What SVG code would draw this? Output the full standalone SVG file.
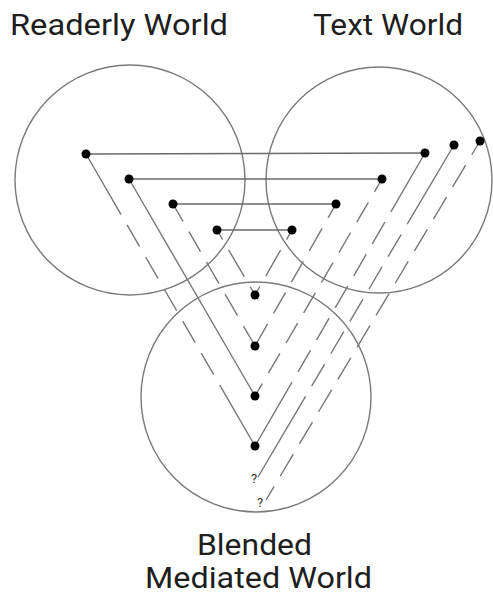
<svg xmlns="http://www.w3.org/2000/svg" width="493" height="597" viewBox="0 0 493 597">
<style>
.world{fill:none;stroke:#7a7a7a;stroke-width:1.4}
.label{font-family:Roboto,"Noto Sans","Liberation Sans",sans-serif;font-size:29px;fill:#1e1e1e}
.q{font-family:Roboto,"Noto Sans","Liberation Sans",sans-serif;font-size:13px;fill:#333;text-anchor:middle}
.h{stroke:#6a6a6a;stroke-width:1.5;fill:none}
.d{stroke:#777;stroke-width:1.4;fill:none}
.dot{fill:#000}
</style>
<rect width="493" height="597" fill="#fff"/>
<g id="readerly-world">
<circle class="world" cx="130" cy="180" r="115"/>
<text class="label" x="10" y="35" textLength="218" lengthAdjust="spacingAndGlyphs">Readerly World</text>
</g>
<g id="text-world">
<circle class="world" cx="379" cy="180" r="113"/>
<text class="label" x="313" y="35" textLength="150" lengthAdjust="spacingAndGlyphs">Text World</text>
</g>
<g id="blended-world">
<circle class="world" cx="256" cy="397" r="115"/>
<text class="label" x="197" y="555" textLength="115" lengthAdjust="spacingAndGlyphs">Blended</text>
<text class="label" x="145" y="588" textLength="227" lengthAdjust="spacingAndGlyphs">Mediated World</text>
</g>
<g id="connectors">
<line class="h" x1="86" y1="154" x2="425" y2="153"/>
<line class="h" x1="129" y1="179" x2="382" y2="179"/>
<line class="h" x1="173" y1="204" x2="336" y2="204"/>
<line class="h" x1="217" y1="230" x2="292" y2="230"/>
<line class="d" x1="86" y1="154" x2="255" y2="446" stroke-dasharray="70 12 25 12 25 12 25 12 25 12 25 12 100 0"/>
<line class="d" x1="129" y1="179" x2="255" y2="396"/>
<line class="d" x1="173" y1="204" x2="255" y2="346" stroke-dasharray="20 12 23 12 25 12 25 12 100 0"/>
<line class="d" x1="217" y1="230" x2="255" y2="295" stroke-dasharray="11 12 31 12 100 0"/>
<line class="d" x1="425" y1="153" x2="255" y2="446" stroke-dasharray="68 12 25 12 25 12 25 12 25 12 25 12 100 0"/>
<line class="d" x1="382" y1="179" x2="255" y2="396" stroke-dasharray="15 12 23 12 23 12 23 12 23 12 23 12 23 12 100 0"/>
<line class="d" x1="336" y1="204" x2="255" y2="346" stroke-dasharray="16 12 26 12 24 12 24 12 100 0"/>
<line class="d" x1="292" y1="230" x2="255" y2="295" stroke-dasharray="11 12 30 12 100 0"/>
<line class="d" x1="454" y1="145" x2="258" y2="477" stroke-dasharray="92 12 25.6 12 25.6 12 25.6 12 25.6 12 25.6 12 200 0"/>
<line class="d" x1="480" y1="141" x2="266" y2="500" stroke-dasharray="16 12 25.4 12 25.4 12 25.4 12 25.4 12 25.4 12 25.4 12 25.4 12 25.4 12 25.4 12 25.4 12 100 0"/>
</g>
<g id="dot-r1"><circle class="dot" cx="86" cy="154" r="4.5"/></g>
<g id="dot-r2"><circle class="dot" cx="129" cy="179" r="4.5"/></g>
<g id="dot-r3"><circle class="dot" cx="173" cy="204" r="4.5"/></g>
<g id="dot-r4"><circle class="dot" cx="217" cy="230" r="4.5"/></g>
<g id="dot-t1"><circle class="dot" cx="425" cy="153" r="4.5"/></g>
<g id="dot-t2"><circle class="dot" cx="382" cy="179" r="4.5"/></g>
<g id="dot-t3"><circle class="dot" cx="336" cy="204" r="4.5"/></g>
<g id="dot-t4"><circle class="dot" cx="292" cy="230" r="4.5"/></g>
<g id="dot-t5"><circle class="dot" cx="454" cy="145" r="4.5"/></g>
<g id="dot-t6"><circle class="dot" cx="480" cy="141" r="4.5"/></g>
<g id="dot-b1"><circle class="dot" cx="255" cy="295" r="4.5"/></g>
<g id="dot-b2"><circle class="dot" cx="255" cy="346" r="4.5"/></g>
<g id="dot-b3"><circle class="dot" cx="255" cy="396" r="4.5"/></g>
<g id="dot-b4"><circle class="dot" cx="255" cy="446" r="4.5"/></g>
<g id="q1"><text class="q" x="254" y="483">?</text></g>
<g id="q2"><text class="q" x="260" y="507">?</text></g>
</svg>
